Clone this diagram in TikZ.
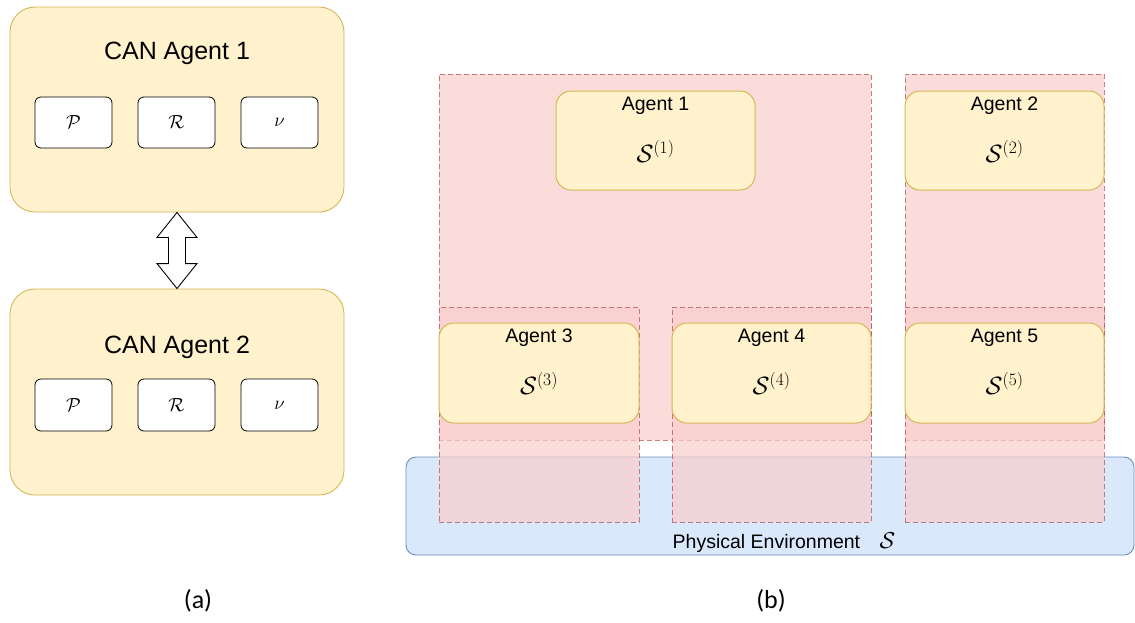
\RequirePackage{fix-cm}
\documentclass[tikz,border=0pt]{standalone}
\usepackage{fontspec}
\setmainfont{Liberation Sans}
\newfontfamily\capfont{Carlito}
\usetikzlibrary{calc}
\definecolor{yfill}{HTML}{FFF2CC}
\definecolor{ydraw}{HTML}{D6B656}
\definecolor{pfill}{HTML}{F8CECC}
\definecolor{pdraw}{HTML}{B85450}
\definecolor{bfill}{HTML}{DAE8FC}
\definecolor{bdraw}{HTML}{6C8EBF}
\tikzset{
  canbox/.style={draw=ydraw, fill=yfill, rounded corners=25pt, line width=0.9pt, minimum width=334pt, inner sep=0pt},
  partbox/.style={draw=black, fill=white, rounded corners=6pt, line width=0.8pt, minimum width=77pt, minimum height=51pt, inner sep=0pt, font=\fontsize{19}{22}\selectfont},
  cantitle/.style={font=\fontsize{25}{30}\selectfont, inner sep=0pt},
  region/.style={draw=pdraw, fill=pfill, fill opacity=0.7, draw opacity=0.75, dash pattern=on 5pt off 3pt, line width=1pt, inner sep=0pt},
  agentbox/.style={draw=ydraw, fill=yfill, rounded corners=15pt, line width=1pt, minimum width=199pt, minimum height=99pt, inner sep=0pt},
  agentlabel/.style={font=\fontsize{19.5}{23}\selectfont, inner sep=0pt},
  statelabel/.style={font=\fontsize{25}{30}\selectfont, inner sep=0pt},
  envbox/.style={draw=bdraw, fill=bfill, rounded corners=10pt, line width=0.9pt, minimum width=728pt, minimum height=98pt, inner sep=0pt},
  caption/.style={font=\capfont\fontsize{26}{30}\selectfont, inner sep=0pt},
  dblarrow/.style={draw=black, fill=white, line width=0.9pt, line join=miter}
}
\begin{document}
\begin{tikzpicture}[x=1pt,y=-1pt]
\useasboundingbox (0,0) rectangle (1135,622);
% ---------- panel (a) ----------
\node[canbox, minimum height=205pt] (can1) at (177,109.5) {};
\node[cantitle] (can1t) at (177,53) {CAN Agent 1};
\node[partbox] (can1p) at (73.5,122.5) {$\mathcal{P}$};
\node[partbox] (can1r) at (176.5,122.5) {$\mathcal{R}$};
\node[partbox] (can1n) at (279.5,122.5) {$\nu$};

\node[canbox, minimum height=206pt] (can2) at (177,392) {};
\node[cantitle] (can2t) at (177,347) {CAN Agent 2};
\node[partbox, minimum height=52pt] (can2p) at (73.5,405) {$\mathcal{P}$};
\node[partbox, minimum height=52pt] (can2r) at (176.5,405) {$\mathcal{R}$};
\node[partbox, minimum height=52pt] (can2n) at (279.5,405) {$\nu$};

\draw[dblarrow] (can1.south)
  -- ($(can1.south)+(20,25)$) -- ($(can1.south)+(8.5,25)$)
  -- ($(can2.north)+(8.5,-25)$) -- ($(can2.north)+(20,-25)$)
  -- (can2.north)
  -- ($(can2.north)+(-20,-25)$) -- ($(can2.north)+(-8.5,-25)$)
  -- ($(can1.south)+(-8.5,25)$) -- ($(can1.south)+(-20,25)$) -- cycle;

\node[caption] (capa) at (198,601) {(a)};

% ---------- panel (b) ----------
\node[envbox] (env) at (770,506) {};
\node[font=\fontsize{19.5}{23}\selectfont, inner sep=0pt] (envt) at ($(env.south)+(14,-13)$) {Physical Environment\quad\fontsize{23}{26}\selectfont$\mathcal{S}$};

\node[region, minimum width=432pt, minimum height=366pt] (reg1) at (655,257) {};
\node[region, minimum width=199pt, minimum height=366pt] (reg2) at (1004.5,257) {};
\node[region, minimum width=200pt, minimum height=215pt] (reg3) at (539,414.5) {};
\node[region, minimum width=199pt, minimum height=215pt] (reg4) at (771.5,414.5) {};
\node[region, minimum width=199pt, minimum height=215pt] (reg5) at (1004.5,414.5) {};

\node[agentbox] (ag1) at (655.5,140.5) {};
\node[agentbox] (ag2) at (1004.5,140.5) {};
\node[agentbox, minimum width=200pt, minimum height=100pt] (ag3) at (539,373) {};
\node[agentbox, minimum height=100pt] (ag4) at (771.5,373) {};
\node[agentbox, minimum height=100pt] (ag5) at (1004.5,373) {};

\foreach \n in {1,...,5}{
  \node[agentlabel] (ag\n l) at ($(ag\n.north)+(0,15.5)$) {Agent \n};
  \node[statelabel] (ag\n s) at ($(ag\n.north)+(0,61)$) {$\mathcal{S}^{(\n)}$};
}

\node[caption] (capb) at (771,601) {(b)};
\end{tikzpicture}
\end{document}
